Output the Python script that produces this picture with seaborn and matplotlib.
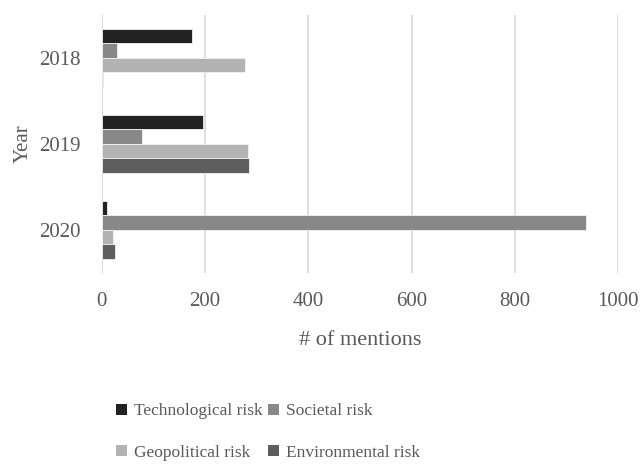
import matplotlib
matplotlib.use("Agg")
import matplotlib.pyplot as plt
import seaborn as sns
import pandas as pd
from matplotlib.patches import Patch

years = ["2018", "2019", "2020"]
risks = ["Technological risk", "Societal risk", "Geopolitical risk", "Environmental risk"]
technological = [174, 196, 9]
societal = [30, 78, 939]
geopolitical = [277, 284, 21]
environmental = [2, 286, 25]
colors = ["#222222", "#888888", "#b3b3b3", "#5e5e5e"]
x_ticks = [0, 200, 400, 600, 800, 1000]

rows = []
for name, vals in zip(risks, [technological, societal, geopolitical, environmental]):
    for y, v in zip(years, vals):
        rows.append({"Year": y, "Risk": name, "Mentions": v})
df = pd.DataFrame(rows)

sns.set_theme(style="white")
font = ["Liberation Serif", "DejaVu Serif"]
plt.rcParams["font.family"] = font
text_color = "#595959"

fig = plt.figure(figsize=(6.41, 4.65), dpi=100)
ax = fig.add_axes([0.159, 0.4135, 0.805, 0.5545])

sns.barplot(data=df, y="Year", x="Mentions", hue="Risk", order=years,
            hue_order=risks, palette=colors, orient="h", width=0.68,
            edgecolor="#f2f2f2", linewidth=0.6, legend=False, ax=ax)

ax.set_xlim(0, 1000)
ax.set_ylim(2.5, -0.5)
ax.set_xticks(x_ticks)
ax.set_xticklabels([str(t) for t in x_ticks])
ax.grid(axis="x", color="#d9d9d9", linewidth=1.2)
ax.grid(axis="y", visible=False)
ax.set_axisbelow(True)
for s in ax.spines.values():
    s.set_visible(False)
ax.axvline(0, color="#d9d9d9", linewidth=1.2, zorder=0)

ax.tick_params(axis="y", length=0, labelsize=15, colors=text_color, pad=15)
ax.tick_params(axis="x", length=0, labelsize=15, colors=text_color, pad=14)
ax.set_xlabel("# of mentions", fontsize=16, color=text_color, labelpad=14)
ax.set_ylabel("Year", fontsize=15, color=text_color, labelpad=5)

# legend laid out row-wise: Technological / Societal, Geopolitical / Environmental
order = [0, 2, 1, 3]
handles = [Patch(facecolor=colors[i], edgecolor="none") for i in order]
labels = [risks[i] for i in order]
fig.legend(handles, labels, loc="center", bbox_to_anchor=(0.418, 0.071),
           ncol=2, frameon=False, fontsize=12.5, labelcolor=text_color,
           handlelength=0.62, handleheight=0.62, handletextpad=0.4,
           columnspacing=0.35, labelspacing=1.45)

fig.savefig("out.png", dpi=100)
